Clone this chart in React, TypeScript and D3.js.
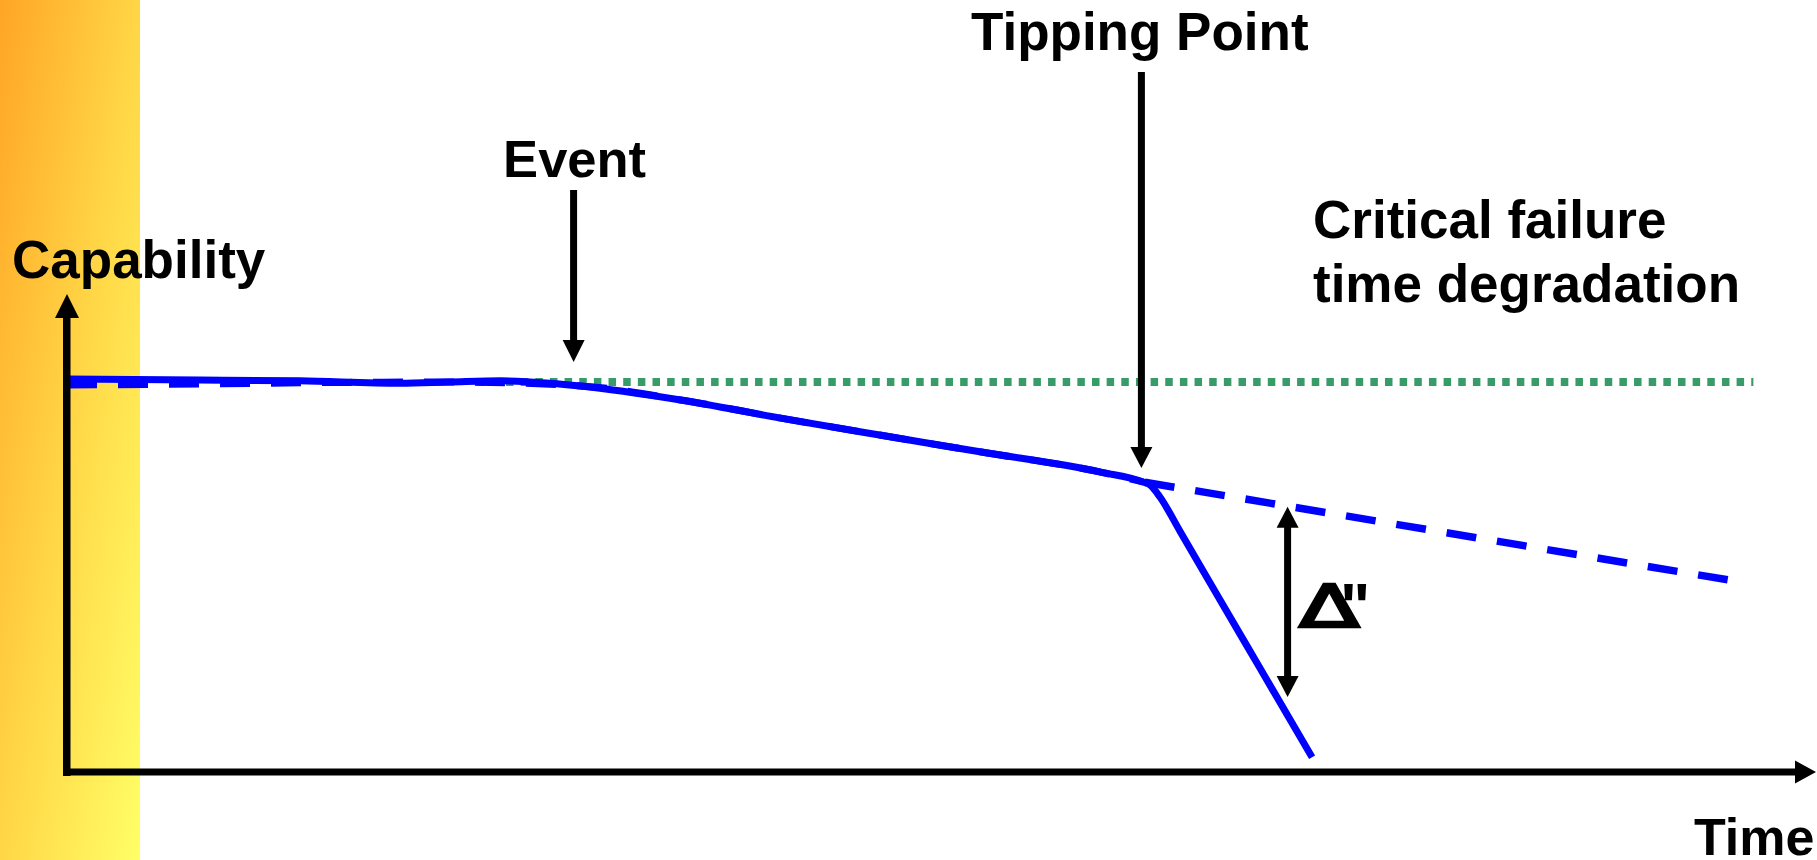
import React from "react";
import * as d3 from "d3";

// ---- Data (time units, capability units) ----
const solidTime = [0, 7.8, 13.7, 19.6, 22.5, 25.5, 28.4, 30.2, 36.1, 41.9, 47.8, 53.7, 60.8, 63.29, 63.71, 64.29, 65.47, 67.82, 70.18, 73.24];
const solidCap = [100.8, 100.5, 100.3, 99.7, 100.0, 100.3, 99.7, 99.0, 95.4, 90.8, 86.4, 82.1, 76.9, 74.36, 73.59, 70.51, 61.74, 44.18, 26.59, 3.77];

const trendTime = [0, 7.8, 16.6, 22.5, 30.2, 36.1, 41.9, 47.8, 53.7, 60.8, 63.3];
const trendCap = [99.2, 99.5, 99.9, 100.0, 99.0, 95.4, 90.8, 86.4, 82.1, 76.9, 74.4];

const projTime = [63.4, 97.8];
const projCap = [74.3, 49.2];

const baselineTime = [24.1, 99.2];
const baselineCap = [100, 100];

const eventTime = 29.8;
const tippingTime = 63.2;
const deltaTime = 71.8;
const deltaTop = 68.0;
const deltaBottom = 19.2;

const labels = {
  yAxis: "Capability",
  xAxis: "Time",
  event: "Event",
  tipping: "Tipping Point",
  critical1: "Critical failure",
  critical2: "time degradation",
  delta: "Δ",
  deltaMark: "\"",
};

const W = 1817;
const H = 860;
const FONT = "'Liberation Sans', Arial, Helvetica, sans-serif";
const BLUE = "#0000FF";
const GREEN = "#389B68";

export default function App() {
  const x = d3.scaleLinear().domain([0, 100]).range([67, 1767]);
  const y = d3.scaleLinear().domain([0, 100]).range([772, 382]);

  const zip = (a: number[], b: number[]) => a.map((v, i) => [v, b[i]] as [number, number]);
  const smooth = d3
    .line<[number, number]>()
    .x((d) => x(d[0]))
    .y((d) => y(d[1]))
    .curve(d3.curveMonotoneX);
  const straight = d3
    .line<[number, number]>()
    .x((d) => x(d[0]))
    .y((d) => y(d[1]));

  const solidPath = smooth(zip(solidTime, solidCap)) || "";
  const trendPath = smooth(zip(trendTime, trendCap)) || "";
  const projPath = straight(zip(projTime, projCap)) || "";
  const basePath = straight(zip(baselineTime, baselineCap)) || "";

  const ex = x(eventTime);
  const tx = x(tippingTime);
  const dx = x(deltaTime);
  const dTop = y(deltaTop);
  const dBot = y(deltaBottom);

  const ox = x(0);
  const oy = y(0);

  return (
    <svg
      width={W}
      height={H}
      viewBox={`0 0 ${W} ${H}`}
      style={{ position: "absolute", left: 0, top: 0, display: "block", background: "#ffffff" }}
    >
      <defs>
        <linearGradient id="band" x1="0" y1="0" x2="1" y2="1">
          <stop offset="0" stopColor="#FFA526" />
          <stop offset="0.5" stopColor="#FFD646" />
          <stop offset="1" stopColor="#FFFF66" />
        </linearGradient>
      </defs>
      <rect x={0} y={0} width={140} height={H} fill="url(#band)" />

      {/* Baseline capability (dotted green) */}
      <path d={basePath} fill="none" stroke={GREEN} strokeWidth={8} strokeDasharray="7.5 7.15" />

      {/* Trend (dashed) */}
      <path d={trendPath} fill="none" stroke={BLUE} strokeWidth={7} strokeDasharray="30 21" />
      <path d={projPath} fill="none" stroke={BLUE} strokeWidth={7.5} strokeDasharray="30 21" />

      {/* Actual capability (solid) */}
      <path d={solidPath} fill="none" stroke={BLUE} strokeWidth={7} strokeLinejoin="round" />

      {/* Axes */}
      <rect x={ox - 4} y={318} width={7.5} height={oy - 318 + 4} fill="#000" />
      <polygon points={`${ox - 12},318 ${ox + 12},318 ${ox},294`} fill="#000" />
      <rect x={ox - 4} y={oy - 3.5} width={1795 - ox + 4} height={7} fill="#000" />
      <polygon points={`1795,${oy - 11.5} 1795,${oy + 11.5} 1816,${oy}`} fill="#000" />

      {/* Event arrow */}
      <rect x={ex - 3.5} y={190} width={7} height={152} fill="#000" />
      <polygon points={`${ex - 11},340 ${ex + 11},340 ${ex},362`} fill="#000" />

      {/* Tipping arrow */}
      <rect x={tx - 3.5} y={72} width={7} height={377} fill="#000" />
      <polygon points={`${tx - 11},447 ${tx + 11},447 ${tx},468`} fill="#000" />

      {/* Delta arrow */}
      <rect x={dx - 3.5} y={dTop + 20} width={7} height={dBot - dTop - 40} fill="#000" />
      <polygon points={`${dx - 11},${dTop + 21} ${dx + 11},${dTop + 21} ${dx},${dTop}`} fill="#000" />
      <polygon points={`${dx - 11},${dBot - 21} ${dx + 11},${dBot - 21} ${dx},${dBot}`} fill="#000" />

      {/* Texts */}
      <g fontFamily={FONT} fontWeight="bold" fill="#000">
        <text x={12} y={278} fontSize={53}>{labels.yAxis}</text>
        <text x={1694} y={855} fontSize={52}>{labels.xAxis}</text>
        <text x={ex + 1} y={177} fontSize={52.5} textAnchor="middle">{labels.event}</text>
        <text x={971} y={50} fontSize={53}>{labels.tipping}</text>
        <text x={1313} y={238} fontSize={53}>{labels.critical1}</text>
        <text x={1313} y={302} fontSize={53}>{labels.critical2}</text>
        <text
          transform={`translate(1299,627) scale(1.5,1)`}
          fontSize={59}
          fontWeight="normal"
          fontFamily="'DejaVu Sans', sans-serif"
          stroke="#000"
          strokeWidth={2.6}
          strokeLinejoin="miter"
        >
          {labels.delta}
        </text>
        <text x={1340} y={629} fontSize={64}>{labels.deltaMark}</text>
      </g>
    </svg>
  );
}
